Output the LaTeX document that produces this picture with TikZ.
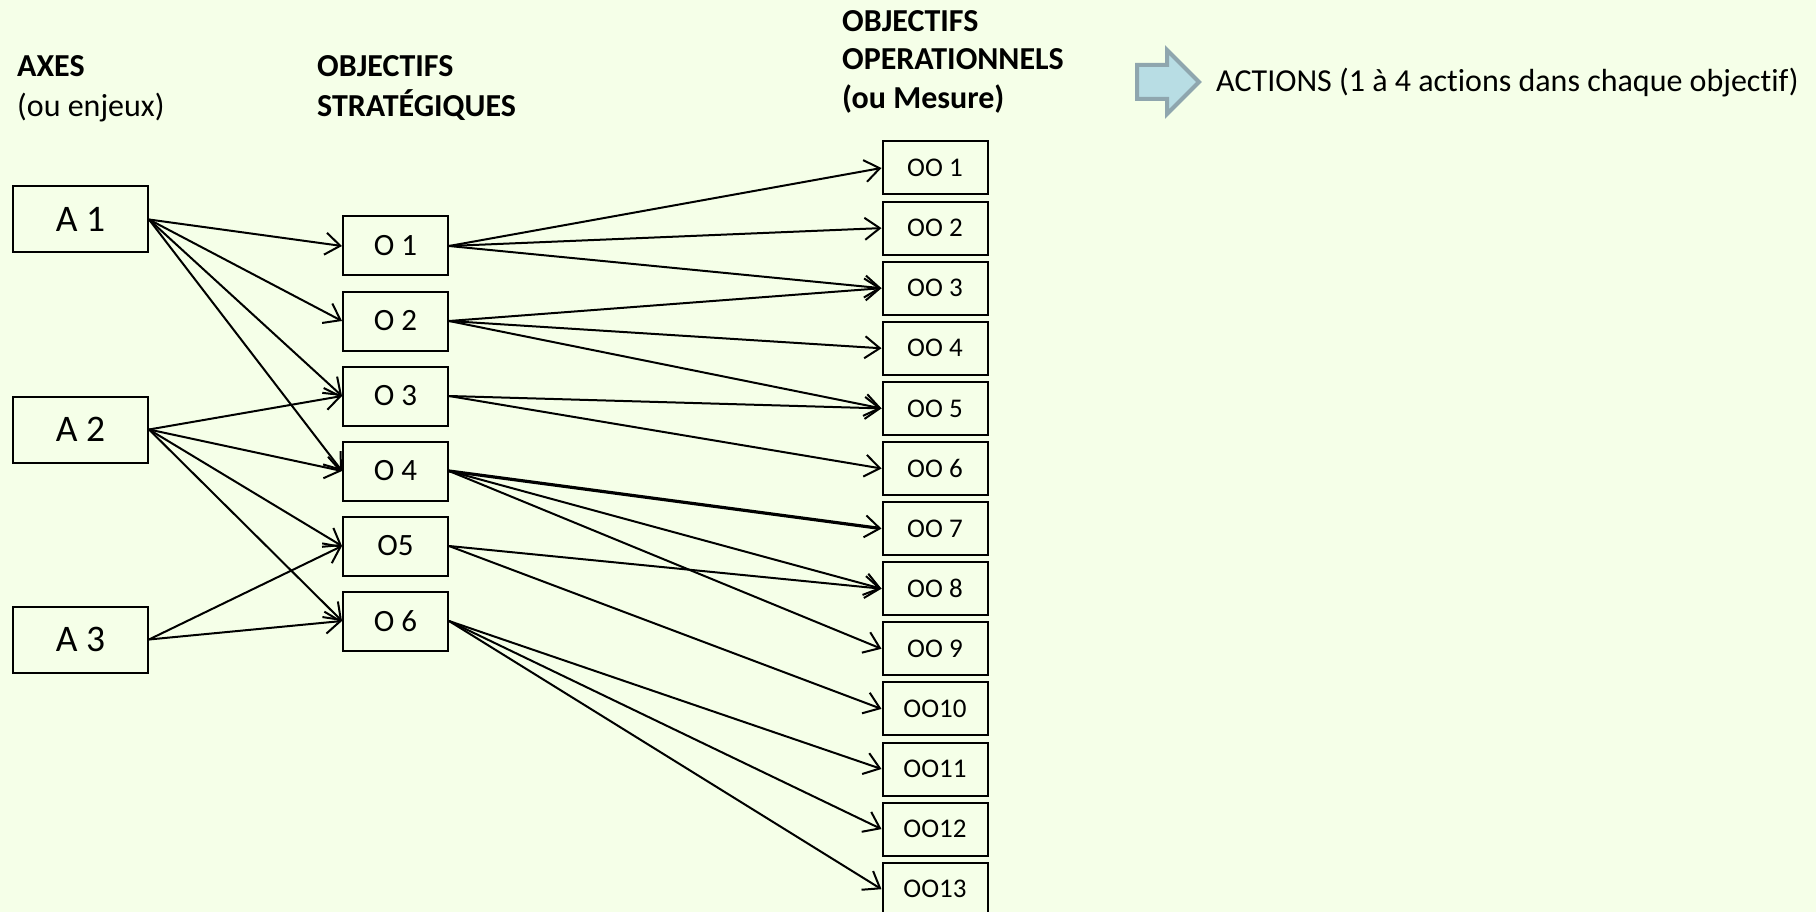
\documentclass[tikz,border=0pt]{standalone}
\usepackage{fontspec}
\setmainfont[Ligatures=NoCommon]{Carlito}
\usetikzlibrary{arrows.meta}
\definecolor{bgcol}{HTML}{F5FFE8}
\definecolor{arrfill}{HTML}{B8DDE4}
\definecolor{arrline}{HTML}{8FA6AE}
\tikzset{
  abox/.style={draw=black, line width=2pt, minimum width=135pt, minimum height=66pt, inner sep=0pt, font=\fontsize{37.5}{42}\selectfont},
  obox/.style={draw=black, line width=2pt, minimum width=105pt, minimum height=59pt, inner sep=0pt, font=\fontsize{31}{36}\selectfont},
  oobox/.style={draw=black, line width=2pt, minimum width=105pt, minimum height=53pt, inner sep=0pt, font=\fontsize{27}{32}\selectfont},
  hdr/.style={anchor=base west, inner sep=0pt, font=\bfseries\fontsize{32}{38}\selectfont},
  sub/.style={anchor=base west, inner sep=0pt, font=\fontsize{32}{38}\selectfont},
  link/.style={line width=2pt, -{Straight Barb[length=15pt,width=22pt,line width=2pt]}},
  boldlink/.style={link, line width=3.2pt},
}
\begin{document}
\begin{tikzpicture}[x=1pt,y=-1pt]
\fill[bgcol] (0,0) rectangle (1816,912);
\useasboundingbox (0,0) rectangle (1816,912);

% headers
\node[hdr] (hax) at (17,77) {AXES};
\node[sub] (hax2) at (17,116.5) {(ou enjeux)};
\node[hdr] (hos) at (317,77) {OBJECTIFS};
\node[hdr] (hos2) at (317,116.5) {STRATÉGIQUES};
\node[hdr] (hoo) at (842,32) {OBJECTIFS};
\node[hdr] (hoo2) at (842,70) {OPERATIONNELS};
\node[hdr] (hoo3) at (842,109) {(ou Mesure)};

% block arrow
\draw[arrline, fill=arrfill, line width=4pt, line join=miter]
  (1137,65) -- (1167,65) -- (1167,50) -- (1199,82) -- (1167,114) -- (1167,99) -- (1137,99) -- cycle;
\node[sub] (act) at (1216,92) {ACTIONS (1 à 4 actions dans chaque objectif)};

% axes
\node[abox] (A1) at (80.5,219.5) {A 1};
\node[abox] (A2) at (80.5,429.5) {A 2};
\node[abox] (A3) at (80.5,639.5) {A 3};

% strategic objectives
\node[obox] (O1) at (395.5,246) {O 1};
\node[obox] (O2) at (395.5,321) {O 2};
\node[obox] (O3) at (395.5,396) {O 3};
\node[obox] (O4) at (395.5,471) {O 4};
\node[obox] (O5) at (395.5,546) {O5};
\node[obox] (O6) at (395.5,621) {O 6};

% operational objectives
\foreach \i/\t in {1/OO 1,2/OO 2,3/OO 3,4/OO 4,5/OO 5,6/OO 6,7/OO 7,8/OO 8,9/OO 9,10/OO10,11/OO11,12/OO12,13/OO13}{
  \node[oobox] (OO\i) at (935,{168+(\i-1)*60.1}) {\t};
}

% links axes -> O
\foreach \s/\t in {A1/O1,A1/O2,A1/O3,A1/O4,A2/O3,A2/O4,A2/O5,A2/O6,A3/O5,A3/O6}{
  \draw[link] (\s.east) -- (\t.west);
}
% links O -> OO
\foreach \s/\t in {O1/OO1,O1/OO2,O1/OO3,O2/OO3,O2/OO4,O2/OO5,O3/OO5,O3/OO6,O4/OO8,O4/OO9,O5/OO8,O5/OO10,O6/OO11,O6/OO12,O6/OO13}{
  \draw[link] (\s.east) -- (\t.west);
}
\draw[boldlink] (O4.east) -- (OO7.west);
\end{tikzpicture}
\end{document}
